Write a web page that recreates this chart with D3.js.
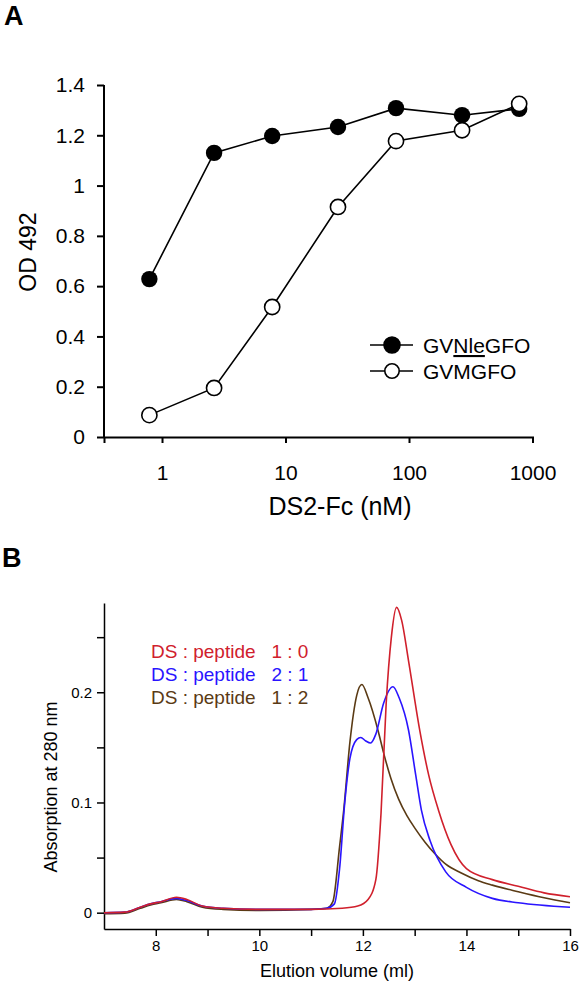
<!DOCTYPE html>
<html><head><meta charset="utf-8">
<script src="https://cdn.jsdelivr.net/npm/d3@7"></script>
<style>
html,body{margin:0;padding:0;background:#fff;}
svg{display:block;font-family:"Liberation Sans",Arial,Helvetica,sans-serif;}
</style></head>
<body>
<svg id="chart" width="581" height="985"></svg>
<script>
// ---------- Panel A data ----------
const concA = [0.79, 2.64, 7.8, 26.6, 78.5, 269, 780];
const odNle = [0.628, 1.13, 1.197, 1.233, 1.308, 1.28, 1.305];
const odMet = [0.087, 0.195, 0.517, 0.915, 1.177, 1.22, 1.325];
const seriesA = ["GVNleGFO", "GVMGFO"];
const xTicksA = [1, 10, 100, 1000];
const yTicksA = [0, 0.2, 0.4, 0.6, 0.8, 1, 1.2, 1.4];

// ---------- Panel B data ----------
const volRed   = [7.0,7.4,7.7,7.9,8.1,8.4,8.6,8.9,9.3,10,11,11.6,11.9,12.1,12.25,12.35,12.45,12.55,12.65,12.75,12.88,13.1,13.27,13.46,13.7,14,14.5,15,15.5,16];
const absRed   = [0,0.0005,0.005,0.008,0.010,0.014,0.012,0.006,0.004,0.003,0.003,0.004,0.006,0.012,0.03,0.09,0.19,0.25,0.277,0.265,0.229,0.165,0.125,0.093,0.062,0.040,0.030,0.024,0.018,0.0145];
const volBlue  = [7.0,7.4,7.7,7.9,8.1,8.4,8.6,8.9,9.3,10,11,11.3,11.45,11.55,11.65,11.75,11.88,11.96,12.05,12.15,12.25,12.4,12.58,12.7,12.88,13.02,13.13,13.3,13.6,14,14.5,15,16];
const absBlue  = [0,0.0005,0.005,0.008,0.010,0.013,0.011,0.006,0.004,0.003,0.003,0.004,0.008,0.04,0.10,0.14,0.157,0.159,0.156,0.154,0.162,0.19,0.205,0.195,0.166,0.125,0.093,0.065,0.037,0.023,0.013,0.009,0.005];
const volBrown = [7.0,7.4,7.7,7.9,8.1,8.4,8.6,8.9,9.3,10,11,11.3,11.42,11.55,11.63,11.75,11.88,11.98,12.1,12.3,12.4,12.54,12.69,12.85,13.0,13.2,13.4,13.6,13.9,14.23,14.5,15,15.5,16];
const absBrown = [-0.001,-0.0005,0.004,0.007,0.009,0.012,0.010,0.005,0.003,0.002,0.003,0.004,0.01,0.06,0.093,0.155,0.197,0.207,0.195,0.164,0.145,0.122,0.103,0.088,0.077,0.064,0.053,0.044,0.036,0.029,0.025,0.019,0.0135,0.009];
const legendB = ["DS : peptide   1 : 0", "DS : peptide   2 : 1", "DS : peptide   1 : 2"];
const colorsB = ["#d0202c", "#2a14ff", "#5a3a14"];
const xTicksB = [8, 9, 10, 11, 12, 13, 14, 15, 16];
const yTicksB = [0, 0.05, 0.1, 0.15, 0.2, 0.25];

const svg = d3.select("#chart");

// ================= Panel A =================
const gA = svg.append("g");
gA.append("text").attr("x", 4).attr("y", 25).attr("font-size", 27).attr("font-weight", "bold").text("A");

const xA = d3.scaleLog().domain([0.339, 1000]).range([104, 532.5]);
const yA = d3.scaleLinear().domain([0, 1.4]).range([437, 85]);

const axXA = gA.append("g").attr("transform", "translate(0,437)")
  .call(d3.axisBottom(xA).tickValues(xTicksA).tickFormat(d3.format("d")).tickSize(6).tickSizeOuter(6).tickPadding(22));
axXA.selectAll("path,line").attr("stroke", "#000").attr("stroke-width", 2);
axXA.selectAll("text").attr("font-size", 21).attr("fill", "#000").attr("font-family", null);

const axYA = gA.append("g").attr("transform", "translate(104,0)")
  .call(d3.axisLeft(yA).tickValues(yTicksA).tickFormat(d => d3.format("")(+d.toFixed(1))).tickSize(7).tickSizeOuter(0).tickPadding(12));
axYA.selectAll("path,line").attr("stroke", "#000").attr("stroke-width", 2);
axYA.selectAll("text").attr("font-size", 21).attr("fill", "#000").attr("font-family", null);
axYA.selectAll(".domain").attr("d", `M0,${yA(1.4)}V${yA(0)}`);

gA.append("text").attr("transform", "translate(36,252) rotate(-90)").attr("text-anchor", "middle")
  .attr("font-size", 23).text("OD 492");
gA.append("text").attr("x", 340).attr("y", 515).attr("text-anchor", "middle")
  .attr("font-size", 25).text("DS2-Fc (nM)");

const lineA = d3.line().x(d => xA(d[0])).y(d => yA(d[1]));
const ptsNle = concA.map((c, i) => [c, odNle[i]]);
const ptsMet = concA.map((c, i) => [c, odMet[i]]);
gA.append("path").attr("d", lineA(ptsNle)).attr("fill", "none").attr("stroke", "#000").attr("stroke-width", 1.6);
gA.append("path").attr("d", lineA(ptsMet)).attr("fill", "none").attr("stroke", "#000").attr("stroke-width", 1.6);
gA.selectAll(".nle").data(ptsNle).enter().append("circle")
  .attr("cx", d => xA(d[0])).attr("cy", d => yA(d[1])).attr("r", 8.2).attr("fill", "#000");
gA.selectAll(".met").data(ptsMet).enter().append("circle")
  .attr("cx", d => xA(d[0])).attr("cy", d => yA(d[1])).attr("r", 7.6)
  .attr("fill", "#fff").attr("stroke", "#000").attr("stroke-width", 1.6);

// legend A
const legA = gA.append("g");
[345, 371].forEach((yy, i) => {
  legA.append("line").attr("x1", 370).attr("x2", 413).attr("y1", yy).attr("y2", yy).attr("stroke", "#000").attr("stroke-width", 1.6);
  legA.append("circle").attr("cx", 392).attr("cy", yy).attr("r", i === 0 ? 8 : 7.2)
    .attr("fill", i === 0 ? "#000" : "#fff").attr("stroke", "#000").attr("stroke-width", 1.6);
});
const t1 = legA.append("text").attr("x", 423).attr("y", 353).attr("font-size", 21);
t1.append("tspan").text("GV");
t1.append("tspan").attr("text-decoration", "underline").text("Nle");
t1.append("tspan").text("GFO");
legA.append("text").attr("x", 423).attr("y", 379).attr("font-size", 21).text(seriesA[1]);

// ================= Panel B =================
const gB = svg.append("g");
gB.append("text").attr("x", 2).attr("y", 567).attr("font-size", 27).attr("font-weight", "bold").text("B");

const xB = d3.scaleLinear().domain([7, 16]).range([104, 570]);
const yB = d3.scaleLinear().domain([-0.0148, 0.281]).range([929, 603]);

const axXB = gB.append("g").attr("transform", "translate(0,929)")
  .call(d3.axisBottom(xB).tickValues(xTicksB).tickFormat(d => d % 2 === 0 ? d : "").tickSize(7).tickSizeOuter(0).tickPadding(4));
axXB.selectAll("path,line").attr("stroke", "#000").attr("stroke-width", 1.5);
axXB.selectAll("text").attr("font-size", 15).attr("fill", "#000").attr("font-family", null);

const axYB = gB.append("g").attr("transform", "translate(104,0)")
  .call(d3.axisLeft(yB).tickValues(yTicksB).tickFormat(d => (Math.abs(d*10 - Math.round(d*10)) < 1e-9) ? d3.format("")(+d.toFixed(1)) : "").tickSize(7).tickSizeOuter(0).tickPadding(5));
axYB.selectAll("path,line").attr("stroke", "#000").attr("stroke-width", 1.5);
axYB.selectAll("text").attr("font-size", 15).attr("fill", "#000").attr("font-family", null);

gB.append("text").attr("transform", "translate(57,787) rotate(-90)").attr("text-anchor", "middle")
  .attr("font-size", 18).text("Absorption at 280 nm");
gB.append("text").attr("x", 337).attr("y", 977).attr("text-anchor", "middle")
  .attr("font-size", 18).text("Elution volume (ml)");

const lineB = d3.line().x(d => xB(d[0])).y(d => yB(d[1])).curve(d3.curveMonotoneX);
const curves = [
  volBrown.map((v, i) => [v, absBrown[i]]),
  volBlue.map((v, i) => [v, absBlue[i]]),
  volRed.map((v, i) => [v, absRed[i]])
];
const curveColors = [colorsB[2], colorsB[1], colorsB[0]];
curves.forEach((c, i) => {
  gB.append("path").attr("d", lineB(c)).attr("fill", "none").attr("stroke", curveColors[i]).attr("stroke-width", 1.6);
});

legendB.forEach((t, i) => {
  gB.append("text").attr("x", 151).attr("y", 658 + i * 23).attr("font-size", 19)
    .attr("fill", colorsB[i]).attr("xml:space", "preserve").style("white-space", "pre").text(t);
});
</script>
</body></html>
